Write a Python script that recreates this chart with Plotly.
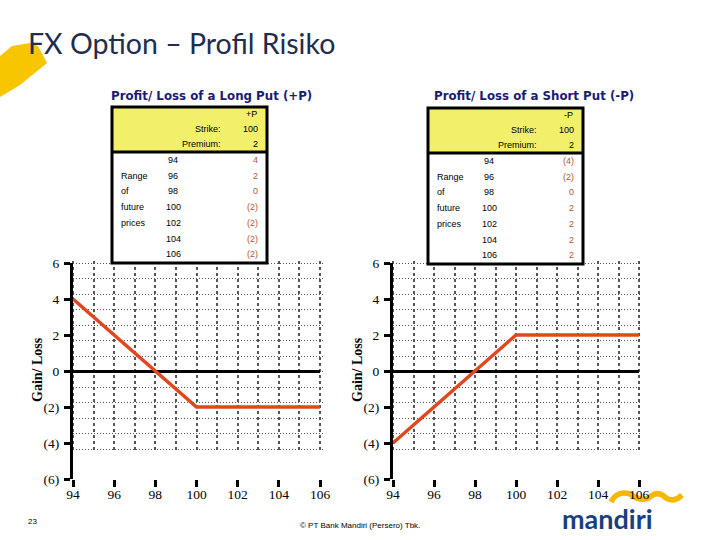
import plotly.graph_objects as go

# ---------------- data ----------------
prices = [94, 96, 98, 100, 102, 104, 106]
long_put_pl = [4, 2, 0, -2, -2, -2, -2]
short_put_pl = [-4, -2, 0, 2, 2, 2, 2]
strike = 100
premium = 2
y_tickvals = [-6, -4, -2, 0, 2, 4, 6]
y_ticktext = ["(6)", "(4)", "(2)", "0", "2", "4", "6"]
row_labels = ["", "Range", "of", "future", "prices", "", ""]

W, H = 720, 540
def px(x):
    return x / W
def py(y):
    return 1 - y / H

RED = "#E2461E"
NAVY = "#1F2D4F"
SUBNAVY = "#1B1B72"
YELLOW = "#F2EF6B"
BODYRED = "#B5533C"
GRID = "#555555"
SERIF = "Liberation Serif"
SANS = "Liberation Sans"

def fmt(v):
    return f"({abs(v)})" if v < 0 else f"{v}"

fig = go.Figure()

charts = [
    ("", "2", 73, 320, long_put_pl, "+P", "Profit/ Loss of a Long Put (+P)", 112, 107, 37, 211),
    ("3", "4", 393, 639, short_put_pl, "-P", "Profit/ Loss of a Short Put (-P)", 428, 108, 357, 534),
]

layout_axes = {}
shapes = []
annotations = []

GRID_TOP, GRID_BOT = 263, 449     # pixel extent of the dotted grid
NGRID = 12                          # horizontal grid intervals
PAD = 0.15                          # grid range padding (units), keeps edge lines visible

for gid, did, x0, x1, series, lab, title, TX, TY, ttl_x, sub_x in charts:
    fig.add_trace(go.Scatter(
        x=prices, y=[None] * len(prices), mode="lines",
        xaxis="x" + gid, yaxis="y" + gid, showlegend=False, hoverinfo="skip"))
    fig.add_trace(go.Scatter(
        x=prices, y=series, mode="lines",
        line=dict(color=RED, width=3.5),
        xaxis="x" + did, yaxis="y" + did, cliponaxis=False,
        showlegend=False, hoverinfo="skip"))
    dom_x = [px(x0), px(x1)]
    xr = [prices[0], prices[-1]]
    ux = (x1 - x0) / (xr[1] - xr[0])
    uy = (GRID_BOT - GRID_TOP) / NGRID
    layout_axes["xaxis" + gid] = dict(
        domain=[px(x0 - PAD * ux), px(x1 + PAD * ux)],
        range=[xr[0] - PAD, xr[1] + PAD], dtick=1, tick0=xr[0],
        showgrid=True, griddash="3px,3px", gridcolor=GRID,
        gridwidth=2, showticklabels=False, zeroline=False,
        showline=False, ticks="", anchor="y" + gid,
        automargin=False, fixedrange=True)
    layout_axes["yaxis" + gid] = dict(
        domain=[py(GRID_BOT + PAD * uy), py(GRID_TOP - PAD * uy)],
        range=[-PAD, NGRID + PAD], dtick=1, tick0=0,
        showgrid=True, griddash="1px,2px", gridcolor=GRID,
        gridwidth=1, showticklabels=False, zeroline=False,
        showline=False, ticks="", anchor="x" + gid,
        automargin=False, fixedrange=True)
    layout_axes["xaxis" + did] = dict(
        domain=dom_x, range=xr, anchor="y" + did, showgrid=False,
        zeroline=False, showline=False, tickmode="array", tickvals=prices,
        ticks="outside", ticklen=7, tickwidth=3, tickcolor="black",
        ticklabelstandoff=-4, automargin=False, fixedrange=True,
        tickfont=dict(family=SERIF, size=13.5, color="black"))
    layout_axes["yaxis" + did] = dict(
        domain=[py(479), py(263)], range=[-6, 6], anchor="x" + did, showgrid=False,
        zeroline=True, zerolinecolor="black", zerolinewidth=3,
        showline=True, linecolor="black", linewidth=3,
        tickmode="array", tickvals=y_tickvals, ticktext=y_ticktext,
        ticks="outside", ticklen=6, tickwidth=3, tickcolor="black",
        ticklabelstandoff=2, automargin=False, fixedrange=True,
        tickfont=dict(family=SERIF, size=13.5, color="black"))

    annotations.append(dict(x=px(ttl_x), y=py(370), xref="paper", yref="paper",
                            text="<b>Gain/ Loss</b>", textangle=-90, showarrow=False,
                            font=dict(family=SERIF, size=14, color="black"),
                            xanchor="center", yanchor="middle"))
    annotations.append(dict(x=px(sub_x), y=py(96), xref="paper", yref="paper",
                            text="<b>" + title + "</b>", showarrow=False,
                            font=dict(family="DejaVu Sans", size=11.8, color=SUBNAVY),
                            xanchor="center", yanchor="middle"))

    TW, HH, TH = 155, 45, 156
    shapes.append(dict(type="rect", xref="paper", yref="paper", layer="above",
                       x0=px(TX), x1=px(TX + TW), y0=py(TY), y1=py(TY + HH),
                       fillcolor=YELLOW, line=dict(width=0)))
    shapes.append(dict(type="rect", xref="paper", yref="paper", layer="above",
                       x0=px(TX), x1=px(TX + TW), y0=py(TY + HH), y1=py(TY + TH),
                       fillcolor="white", line=dict(width=0)))
    shapes.append(dict(type="line", xref="paper", yref="paper", layer="above",
                       x0=px(TX), x1=px(TX + TW), y0=py(TY + HH), y1=py(TY + HH),
                       line=dict(color="black", width=3)))
    shapes.append(dict(type="rect", xref="paper", yref="paper", layer="above",
                       x0=px(TX), x1=px(TX + TW), y0=py(TY), y1=py(TY + TH),
                       line=dict(color="black", width=3)))

    def ann(x, y, text, anchor, color="black"):
        annotations.append(dict(x=px(x), y=py(y), xref="paper", yref="paper",
                                text=text, showarrow=False, xanchor=anchor,
                                yanchor="middle",
                                font=dict(family=SANS, size=9, color=color)))
    ann(TX + 147, TY + 7, lab, "right")
    ann(TX + 111, TY + 22, "Strike:", "right")
    ann(TX + 148, TY + 22, str(strike), "right")
    ann(TX + 111, TY + 37, "Premium:", "right")
    ann(TX + 148, TY + 37, str(premium), "right")
    for i, (p, v, rl) in enumerate(zip(prices, series, row_labels)):
        yy = TY + 53 + i * 15.7
        if rl:
            ann(TX + 7, yy, rl, "left")
        ann(TX + 61, yy, str(p), "center")
        ann(TX + 148, yy, fmt(v), "right", BODYRED)

annotations.append(dict(x=px(26), y=py(43), xref="paper", yref="paper",
                        text="FX Option \u2013 Profil Risiko", showarrow=False,
                        xanchor="left", yanchor="middle",
                        font=dict(family="Lato", size=28.5, color=NAVY)))
annotations.append(dict(x=px(32), y=py(521), xref="paper", yref="paper",
                        text="23", showarrow=False, xanchor="center", yanchor="middle",
                        font=dict(family=SANS, size=8, color="black")))
annotations.append(dict(x=px(360), y=py(525), xref="paper", yref="paper",
                        text="\u00a9 PT Bank Mandiri (Persero) Tbk.", showarrow=False,
                        xanchor="center", yanchor="middle",
                        font=dict(family=SANS, size=8, color="black")))
annotations.append(dict(x=px(607), y=py(518.5), xref="paper", yref="paper",
                        text="<b>mandiri</b>", showarrow=False,
                        xanchor="center", yanchor="middle",
                        font=dict(family="Lato", size=27, color="#1A3F7F")))

def path(points):
    s = "M {} {}".format(px(points[0][0]), py(points[0][1]))
    for a, b in points[1:]:
        s += " L {} {}".format(px(a), py(b))
    return s + " Z"

shapes.append(dict(type="path", xref="paper", yref="paper", layer="below",
                   path=path([(0, 56), (12, 46), (30, 43), (38, 46), (47, 63), (20, 85), (0, 97)]),
                   fillcolor="#F7C600", line=dict(width=0)))
wave = "M {} {} Q {} {} {} {} Q {} {} {} {} Q {} {} {} {} Q {} {} {} {}".format(
    px(611), py(502), px(617), py(490), px(630), py(494),
    px(642), py(503), px(650), py(497), px(658), py(490), px(666), py(498),
    px(674), py(503), px(682), py(495))
shapes.append(dict(type="path", xref="paper", yref="paper", layer="below",
                   path=wave, line=dict(color="#F5B800", width=5.5)))

fig.update_layout(
    width=W, height=H, margin=dict(l=0, r=0, t=0, b=0, autoexpand=False),
    paper_bgcolor="white", plot_bgcolor="rgba(0,0,0,0)",
    showlegend=False, shapes=shapes, annotations=annotations,
    **layout_axes)

fig.write_html("out.html", config={"displayModeBar": False},
               post_script="document.body.style.margin='0px';")
